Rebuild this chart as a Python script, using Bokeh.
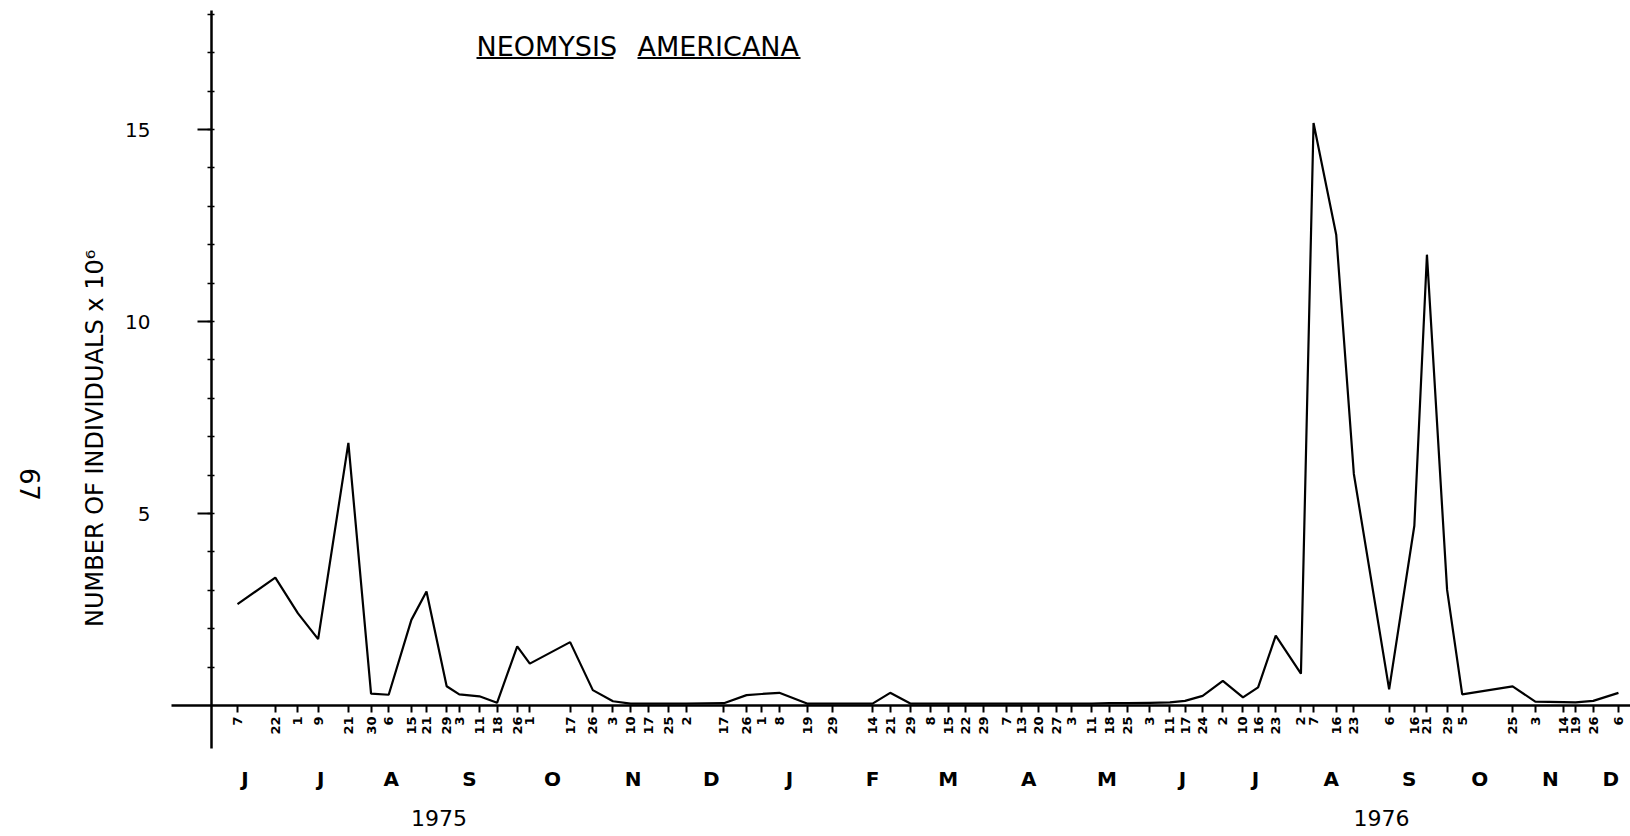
import math
import pandas as pd
from bokeh.plotting import figure
from bokeh.models import (Range1d, FixedTicker, DatetimeAxis, Label, BoxAnnotation,
                          ColumnDataSource)
from bokeh.embed import file_html
from bokeh.resources import INLINE

# ---------------- data ----------------
sample_dates = [
    "1975-06-07", "1975-06-22", "1975-07-01", "1975-07-09", "1975-07-21", "1975-07-30",
    "1975-08-06", "1975-08-15", "1975-08-21", "1975-08-29", "1975-09-03", "1975-09-11",
    "1975-09-18", "1975-09-26", "1975-10-01", "1975-10-17", "1975-10-26", "1975-11-03",
    "1975-11-10", "1975-11-17", "1975-11-25", "1975-12-02", "1975-12-17", "1975-12-26",
    "1976-01-01", "1976-01-08", "1976-01-19", "1976-01-29", "1976-02-14", "1976-02-21",
    "1976-02-29", "1976-03-08", "1976-03-15", "1976-03-22", "1976-03-29", "1976-04-07",
    "1976-04-13", "1976-04-20", "1976-04-27", "1976-05-03", "1976-05-11", "1976-05-18",
    "1976-05-25", "1976-06-03", "1976-06-11", "1976-06-17", "1976-06-24", "1976-07-02",
    "1976-07-10", "1976-07-16", "1976-07-23", "1976-08-02", "1976-08-07", "1976-08-16",
    "1976-08-23", "1976-09-06", "1976-09-16", "1976-09-21", "1976-09-29", "1976-10-05",
    "1976-10-25", "1976-11-03", "1976-11-14", "1976-11-19", "1976-11-26", "1976-12-06",
]
individuals_e6 = [
    2.64, 3.33, 2.40, 1.73, 6.84, 0.31,
    0.28, 2.23, 2.97, 0.50, 0.29, 0.24,
    0.07, 1.54, 1.09, 1.65, 0.40, 0.11,
    0.05, 0.05, 0.05, 0.05, 0.06, 0.27,
    0.30, 0.33, 0.05, 0.05, 0.05, 0.33,
    0.05, 0.05, 0.05, 0.05, 0.05, 0.05,
    0.05, 0.05, 0.05, 0.05, 0.05, 0.06,
    0.06, 0.07, 0.08, 0.12, 0.25, 0.64,
    0.21, 0.47, 1.82, 0.83, 15.17, 12.26,
    6.03, 0.42, 4.68, 11.74, 3.01, 0.29,
    0.50, 0.10, 0.09, 0.08, 0.12, 0.33,
]
day_labels = [str(pd.Timestamp(d).day) for d in sample_dates]

month_tick_dates = [
    "1975-06-10", "1975-07-10", "1975-08-07", "1975-09-07", "1975-10-10", "1975-11-11",
    "1975-12-12", "1976-01-12", "1976-02-14", "1976-03-15", "1976-04-16", "1976-05-17",
    "1976-06-16", "1976-07-15", "1976-08-14", "1976-09-14", "1976-10-12", "1976-11-09",
    "1976-12-03",
]
month_letters = ["J", "J", "A", "S", "O", "N", "D", "J", "F", "M", "A", "M",
                 "J", "J", "A", "S", "O", "N", "D"]
year_tick_dates = ["1975-08-26", "1976-09-03"]
year_labels = ["1975", "1976"]
y_major = [5, 10, 15]
y_minor = list(range(1, 19))

title_words = ["NEOMYSIS", "AMERICANA"]
y_title = "NUMBER OF INDIVIDUALS  x 10\u2076"
page_number = "67"

FONT = "DejaVu Sans"
W, H = 1630, 836

# ---------------- layout helpers (pixel -> data, for placing annotations) ----------------
T0 = pd.Timestamp("1975-06-07")
PX0, PX_PER_DAY = 237.0, 2.52     # where T0 sits and horizontal scale
PY0, PX_PER_UNIT = 705.0, 38.4    # where y = 0 sits and vertical scale


def ms(s):
    return int(pd.Timestamp(s).value // 10**6)


def xd(px):
    return ms(T0) + (px - PX0) / PX_PER_DAY * 86400000.0


def yd(py):
    return (PY0 - py) / PX_PER_UNIT


src = ColumnDataSource(dict(date=pd.to_datetime(sample_dates), n=individuals_e6))

p = figure(width=W, height=H, x_axis_type="datetime", output_backend="svg",
           toolbar_location=None,
           x_range=Range1d(xd(0), xd(W)), y_range=Range1d(yd(H), yd(0)),
           min_border_left=0, min_border_right=0, min_border_top=0, min_border_bottom=0,
           outline_line_color=None)
p.grid.visible = False
p.background_fill_color = "white"
p.border_fill_color = "white"

# x axis of sample dates, crossing at y = 0
xa = p.xaxis[0]
xa.fixed_location = 0
xa.bounds = (xd(171), xd(W))
xa.ticker = FixedTicker(ticks=[ms(d) for d in sample_dates], minor_ticks=[])
xa.major_label_overrides = {ms(d): lab for d, lab in zip(sample_dates, day_labels)}
xa.major_label_orientation = math.pi / 2
xa.axis_line_width = 2.5
xa.axis_line_color = "black"
xa.major_tick_out = 7
xa.major_tick_in = 0
xa.major_tick_line_width = 2
xa.minor_tick_out = 0
xa.minor_tick_in = 0
xa.major_label_standoff = 4
xa.major_label_text_font = FONT
xa.major_label_text_font_size = "13px"
xa.major_label_text_font_style = "bold"
xa.major_label_text_color = "black"

# y axis
ya = p.yaxis[0]
ya.fixed_location = xd(211)
ya.bounds = (yd(748), yd(10))
ya.ticker = FixedTicker(ticks=y_major, minor_ticks=y_minor)
ya.axis_line_width = 2.5
ya.axis_line_color = "black"
ya.major_tick_out = 14
ya.major_tick_in = 0
ya.major_tick_line_width = 2
ya.minor_tick_out = 4
ya.minor_tick_in = 3
ya.minor_tick_line_width = 1.5
ya.major_label_standoff = 47
ya.major_label_text_font = FONT
ya.major_label_text_font_size = "20px"
ya.major_label_text_color = "black"


def label_axis(dates, labels, standoff, size, style):
    ax = DatetimeAxis(ticker=FixedTicker(ticks=[ms(d) for d in dates], minor_ticks=[]),
                      fixed_location=0,
                      axis_line_color=None, major_tick_line_color=None,
                      minor_tick_line_color=None,
                      major_tick_out=0, major_tick_in=0, minor_tick_out=0, minor_tick_in=0,
                      major_label_standoff=standoff, major_label_text_font=FONT,
                      major_label_text_font_size=size, major_label_text_font_style=style,
                      major_label_text_color="black")
    ax.major_label_overrides = {ms(d): t for d, t in zip(dates, labels)}
    return ax


p.add_layout(label_axis(month_tick_dates, month_letters, 61, "20px", "bold"), "below")
p.add_layout(label_axis(year_tick_dates, year_labels, 104, "22px", "normal"), "below")

# data line
p.line("date", "n", source=src, line_color="black", line_width=2.2)

# title words with underlines
title_left_px = [476, 637]
title_right_px = [613, 800]
for word, l_px, r_px in zip(title_words, title_left_px, title_right_px):
    p.add_layout(Label(x=xd(l_px), y=yd(46), text=word, text_font=FONT,
                       text_font_size="27px", text_color="black",
                       text_align="left", text_baseline="alphabetic"))
    p.add_layout(BoxAnnotation(left=xd(l_px), right=xd(r_px), bottom=yd(58.5), top=yd(56.5),
                               fill_color="black", fill_alpha=1, line_color=None))

# y-axis title and page number
p.add_layout(Label(x=xd(94), y=yd(434), text=y_title, angle=math.pi / 2,
                   text_font=FONT, text_font_size="24px", text_color="black",
                   text_align="center", text_baseline="middle"))
p.add_layout(Label(x=xd(29), y=yd(484), text=page_number, angle=-math.pi / 2,
                   text_font=FONT, text_font_size="26px", text_color="black",
                   text_align="center", text_baseline="middle"))

open("out.html", "w").write(file_html(p, INLINE))
